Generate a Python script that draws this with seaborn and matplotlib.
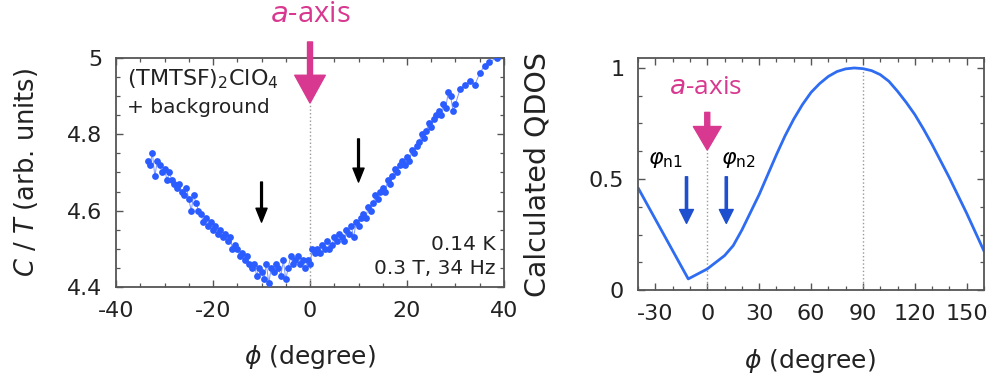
import matplotlib
matplotlib.use("Agg")
import matplotlib.pyplot as plt
from matplotlib.ticker import MultipleLocator, FuncFormatter
import seaborn as sns
import pandas as pd

# measured C/T vs field angle (left panel)
phi_meas = [-33.5, -33.0, -32.5, -32.0, -31.5, -31.0, -30.5, -30.0, -29.5, -29.0,
            -28.5, -28.0, -27.5, -27.0, -26.5, -26.0, -25.5, -25.0, -24.5, -24.0,
            -23.5, -23.0, -22.5, -22.0, -21.5, -21.0, -20.5, -20.0, -19.5, -19.0,
            -18.5, -18.0, -17.5, -17.0, -16.5, -16.0, -15.5, -15.0, -14.5, -14.0,
            -13.5, -13.0, -12.5, -12.0, -11.5, -11.0, -10.5, -10.0, -9.5, -9.0,
            -8.5, -8.0, -7.5, -7.0, -6.5, -6.0, -5.5, -5.0, -4.5, -4.0,
            -3.5, -3.0, -2.5, -2.0, -1.5, -1.0, -0.5, 0.0, 0.5, 1.0,
            1.5, 2.0, 2.5, 3.0, 3.5, 4.0, 4.5, 5.0, 5.5, 6.0,
            6.5, 7.0, 7.5, 8.0, 8.5, 9.0, 9.5, 10.0, 10.5, 11.0,
            11.5, 12.0, 12.5, 13.0, 13.5, 14.0, 14.5, 15.0, 15.5, 16.0,
            16.5, 17.0, 17.5, 18.0, 18.5, 19.0, 19.5, 20.0, 20.5, 21.0,
            21.5, 22.0, 22.5, 23.0, 23.5, 24.0, 24.5, 25.0, 25.5, 26.0,
            26.5, 27.0, 27.5, 28.0, 28.5, 29.0, 29.5, 30.0, 31.0, 32.0,
            33.0, 34.0, 35.0, 36.0, 37.0, 38.5]
ct_meas = [4.73, 4.72, 4.75, 4.69, 4.73, 4.72, 4.70, 4.71, 4.68, 4.70,
           4.68, 4.67, 4.66, 4.67, 4.65, 4.64, 4.66, 4.63, 4.60, 4.64,
           4.62, 4.60, 4.59, 4.57, 4.58, 4.56, 4.57, 4.55, 4.56, 4.54,
           4.55, 4.53, 4.54, 4.52, 4.53, 4.50, 4.51, 4.50, 4.48, 4.49,
           4.47, 4.48, 4.46, 4.45, 4.46, 4.43, 4.45, 4.44, 4.42, 4.46,
           4.41, 4.45, 4.44, 4.46, 4.45, 4.43, 4.47, 4.42, 4.45, 4.48,
           4.46, 4.47, 4.48, 4.46, 4.47, 4.45, 4.47, 4.46, 4.50, 4.49,
           4.50, 4.49, 4.51, 4.50, 4.52, 4.50, 4.51, 4.53, 4.52, 4.54,
           4.53, 4.52, 4.55, 4.54, 4.56, 4.53, 4.57, 4.56, 4.58, 4.59,
           4.58, 4.61, 4.60, 4.62, 4.64, 4.63, 4.65, 4.66, 4.65, 4.68,
           4.67, 4.69, 4.71, 4.70, 4.72, 4.73, 4.72, 4.74, 4.73, 4.76,
           4.75, 4.77, 4.78, 4.80, 4.79, 4.81, 4.83, 4.82, 4.84, 4.85,
           4.86, 4.85, 4.88, 4.87, 4.91, 4.90, 4.86, 4.88, 4.92, 4.93,
           4.94, 4.93, 4.96, 4.98, 4.99, 5.00]

# calculated quasiparticle DOS (right panel)
phi_calc = [-40, -11, 0, 10, 15, 20, 25, 30, 35, 40, 45, 50, 55, 60, 65, 70, 75, 80,
            85, 90, 95, 100, 105, 110, 115, 120, 125, 130, 135, 140, 145, 150, 155, 160]
qdos_calc = [0.46, 0.05, 0.095, 0.155, 0.20, 0.27, 0.35, 0.43, 0.52, 0.61, 0.695, 0.77,
             0.835, 0.89, 0.93, 0.962, 0.984, 0.996, 1.0, 0.997, 0.988, 0.97, 0.94,
             0.895, 0.845, 0.79, 0.725, 0.655, 0.58, 0.505, 0.425, 0.345, 0.26, 0.175]

MAGENTA = '#d8388f'
PT_BLUE = '#2b5cff'
LINE_BLUE = '#2e6cf2'
ARROW_BLUE = '#1d4fcf'
SPINE = '#555555'
TXT = '#222222'

sns.set_theme(style="ticks")
plt.rcParams['font.family'] = ['DejaVu Sans']
plt.rcParams['axes.unicode_minus'] = False
plt.rcParams['mathtext.fontset'] = 'dejavusans'

fig = plt.figure(figsize=(9.97, 3.81), dpi=100)
ax1 = fig.add_axes([0.1164, 0.2467, 0.3891, 0.6011])
ax2 = fig.add_axes([0.64, 0.2388, 0.347, 0.609])

fmt = FuncFormatter(lambda v, p: f'{v:g}')
for ax in (ax1, ax2):
    for s in ax.spines.values():
        s.set_color(SPINE)
        s.set_linewidth(1.3)
    ax.tick_params(which='both', direction='in', top=True, right=True,
                   color=SPINE, labelcolor=TXT, labelsize=16)
    ax.tick_params(which='major', length=5, width=1.0, pad=10)
    ax.tick_params(which='minor', length=3, width=0.9)
    ax.xaxis.set_major_formatter(fmt)
    ax.yaxis.set_major_formatter(fmt)

# ---- left: measurement
df = pd.DataFrame({'phi': phi_meas, 'ct': ct_meas})
sns.lineplot(data=df, x='phi', y='ct', sort=False, estimator=None,
             color='#7b97ff', linewidth=0.7, ax=ax1)
sns.scatterplot(data=df, x='phi', y='ct', color=PT_BLUE, s=24,
                linewidth=0, ax=ax1, zorder=3)
ax1.set_xlim(-40, 40)
ax1.set_ylim(4.4, 5.0)
ax1.set_xticks([-40, -20, 0, 20, 40])
ax1.set_yticks([4.4, 4.6, 4.8, 5.0])
ax1.xaxis.set_minor_locator(MultipleLocator(5))
ax1.yaxis.set_minor_locator(MultipleLocator(0.05))
ax1.set_xlabel(r'$\phi$ (degree)', fontsize=18, color=TXT)
ax1.set_ylabel(r'$C$ / $T$ (arb. units)', fontsize=18.5, color=TXT)
ax1.xaxis.set_label_coords(0.5, -0.245)
ax1.yaxis.set_label_coords(-0.195, 0.5)

ax1.plot([0, 0], [4.4, 4.882], ls=':', color='#999999', lw=1.0, zorder=1)
ax1.annotate('', xy=(0, 4.882), xytext=(0, 5.042), annotation_clip=False,
             arrowprops=dict(width=3.6, headwidth=22, headlength=20,
                             color=MAGENTA, shrink=0))
ax1.text(0, 5.113, r'$\it{a}$-axis', color=MAGENTA, fontsize=21,
         family='Open Sans', ha='center', va='center', clip_on=False)
for xa, y0, y1 in [(-10, 4.675, 4.57), (10, 4.788, 4.675)]:
    ax1.annotate('', xy=(xa, y1), xytext=(xa, y0),
                 arrowprops=dict(width=1.3, headwidth=8, headlength=10,
                                 color='black', shrink=0))
ax1.text(-37.8, 4.929, r'(TMTSF)$_2$ClO$_4$', fontsize=16, color=TXT,
         ha='left', va='baseline')
ax1.text(-37.8, 4.856, '+ background', fontsize=14.5, color=TXT,
         ha='left', va='baseline')
ax1.text(38.2, 4.511, '0.14 K', fontsize=14.5, color=TXT,
         ha='right', va='center')
ax1.text(38.2, 4.448, '0.3 T, 34 Hz', fontsize=14.5, color=TXT,
         ha='right', va='center')

# ---- right: calculation
dc = pd.DataFrame({'phi': phi_calc, 'qdos': qdos_calc})
sns.lineplot(data=dc, x='phi', y='qdos', sort=False, estimator=None,
             color=LINE_BLUE, linewidth=2.0, ax=ax2)
ax2.set_xlim(-40, 160)
ax2.set_ylim(0, 1.045)
ax2.set_xticks([-30, 0, 30, 60, 90, 120, 150])
ax2.set_yticks([0, 0.5, 1])
ax2.xaxis.set_minor_locator(MultipleLocator(10))
ax2.yaxis.set_minor_locator(MultipleLocator(0.125))
ax2.set_xlabel(r'$\phi$ (degree)', fontsize=18, color=TXT)
ax2.set_ylabel('Calculated QDOS', fontsize=20.5, color=TXT)
ax2.xaxis.set_label_coords(0.497, -0.246)
ax2.yaxis.set_label_coords(-0.25, 0.5)

ax2.plot([0, 0], [0, 0.63], ls=':', color='#999999', lw=1.0, zorder=1)
ax2.plot([90, 90], [0, 1.0], ls=':', color='#999999', lw=1.0, zorder=1)
ax2.annotate('', xy=(0, 0.63), xytext=(0, 0.80),
             arrowprops=dict(width=3.6, headwidth=20, headlength=17,
                             color=MAGENTA, shrink=0))
ax2.text(-1, 0.914, r'$\it{a}$-axis', color=MAGENTA, fontsize=19,
         family='Open Sans', ha='center', va='center')
for xa in (-12, 11):
    ax2.annotate('', xy=(xa, 0.30), xytext=(xa, 0.51),
                 arrowprops=dict(width=1.6, headwidth=10, headlength=10,
                                 color=ARROW_BLUE, shrink=0))
ax2.text(-24, 0.585, r'$\varphi_{\rm n1}$', fontsize=16, color='black',
         ha='center', va='center')
ax2.text(18, 0.585, r'$\varphi_{\rm n2}$', fontsize=16, color='black',
         ha='center', va='center')

fig.savefig('out.png', dpi=100)
